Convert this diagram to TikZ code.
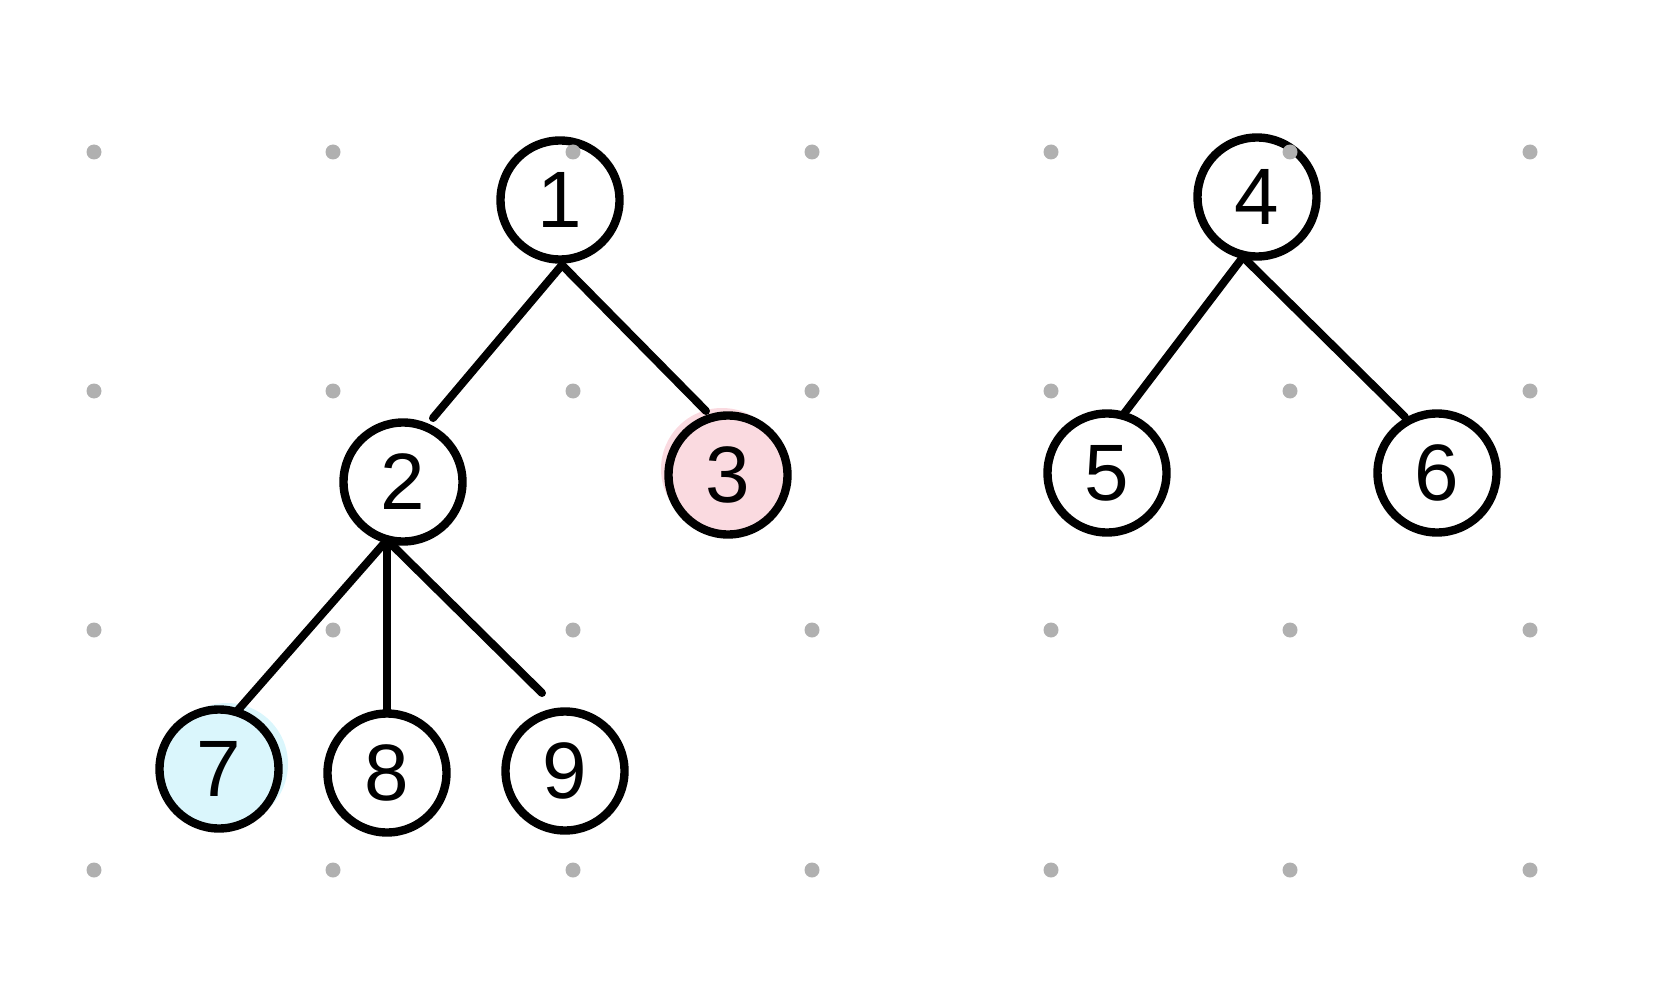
\documentclass[tikz,border=0pt]{standalone}
\usepackage{fontspec}
\setmainfont{Liberation Sans}
\definecolor{dotgrey}{RGB}{176,176,176}
\definecolor{pinkfill}{RGB}{250,218,224}
\definecolor{cyanfill}{RGB}{218,246,252}
\begin{document}
\begin{tikzpicture}[x=0.5pt,y=-0.5pt,
  tn/.style={circle,draw=black,line width=4.2pt,fill=white,minimum size=59.5pt,inner sep=0pt,
    font=\fontsize{40}{40}\selectfont},
  edge/.style={draw=black,line width=4pt,line cap=round},
  griddot/.style={fill=dotgrey}]
\useasboundingbox (0,0) rectangle (1675,1000);
% offset fills
\fill[pinkfill] (722,469) circle (61);
\fill[cyanfill] (227,764) circle (61);
% joints and free ends
\coordinate (j1) at (562,265);
\coordinate (j2) at (387,540);
\coordinate (j4) at (1243,257);
\coordinate (e12) at (433,418);
\coordinate (e13) at (706,411);
\coordinate (e45) at (1123,415);
\coordinate (e46) at (1405,417);
\coordinate (e27) at (238,710);
\coordinate (e28) at (387,718);
\coordinate (e29) at (542,693);
% edges
\draw[edge] (j1) -- (e12);
\draw[edge] (j1) -- (e13);
\draw[edge] (j4) -- (e45);
\draw[edge] (j4) -- (e46);
\draw[edge] (j2) -- (e27);
\draw[edge] (j2) -- (e28);
\draw[edge] (j2) -- (e29);
% nodes
\node[tn] (n1) at (560,200) {1};
\node[tn] (n2) at (403,482) {2};
\node[tn,fill=pinkfill] (n3) at (728,475) {3};
\node[tn] (n4) at (1257,197) {4};
\node[tn] (n5) at (1107,473) {5};
\node[tn] (n6) at (1437,473) {6};
\node[tn,fill=cyanfill] (n7) at (219,769) {7};
\node[tn] (n8) at (387,773) {8};
\node[tn] (n9) at (565,771) {9};
% grid dots
\foreach \x in {94,333,573,812,1051,1290,1530}
  \foreach \y in {152,391,630,870}
    \fill[griddot] (\x,\y) circle (7.5);
\end{tikzpicture}
\end{document}
